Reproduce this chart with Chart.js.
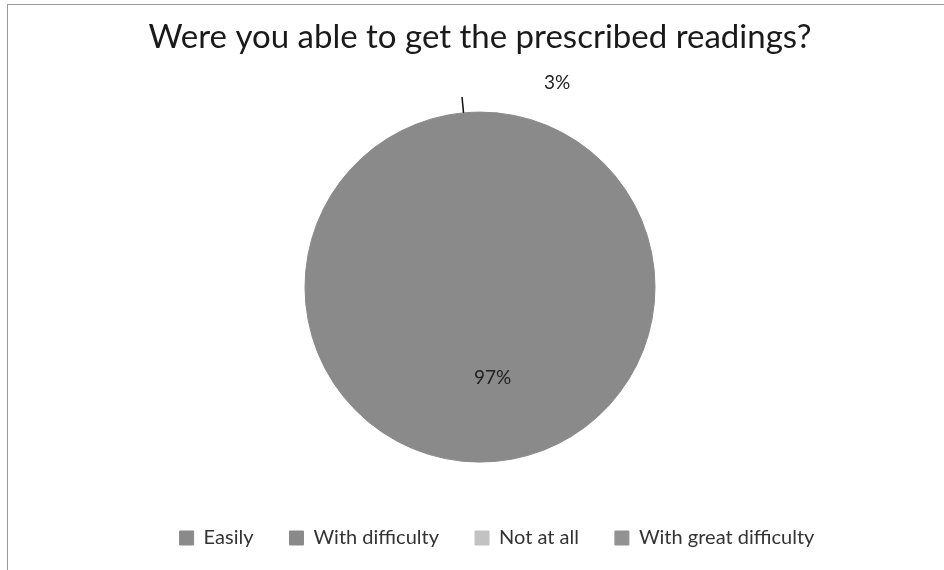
<!DOCTYPE html>
<html>
<head>
<meta charset="utf-8">
<script src="https://cdn.jsdelivr.net/npm/chart.js@4.4.1/dist/chart.umd.min.js"></script>
<style>
  html, body { margin: 0; padding: 0; background: #ffffff; }
  #wrap { width: 944px; height: 570px; position: relative; }
</style>
</head>
<body>
<div id="wrap"><canvas id="c" width="944" height="570"></canvas></div>
<script>
const categories = ['Easily', 'With difficulty', 'Not at all', 'With great difficulty'];
const percentValues = [97, 3, 0, 0];
const sliceColors = ['#8a8a8a', '#8a8a8a', '#c2c2c2', '#929292'];
const chartTitle = 'Were you able to get the prescribed readings?';

const FONT = 'Lato, "Open Sans", sans-serif';

const framePlugin = {
  id: 'frame',
  afterLayout(chart) {
    const lg = chart.legend;
    if (lg) { lg.left += 17; lg.right += 17; }
  },
  beforeDraw(chart) {
    const ctx = chart.ctx;
    ctx.save();
    ctx.fillStyle = '#ffffff';
    ctx.fillRect(0, 0, chart.width, chart.height);
    ctx.strokeStyle = '#9a9a9a';
    ctx.lineWidth = 1;
    ctx.strokeRect(7.5, 4.5, chart.width + 20, chart.height + 20);
    ctx.restore();
  }
};

const labelPlugin = {
  id: 'sliceLabels',
  afterDatasetsDraw(chart) {
    const ctx = chart.ctx;
    const meta = chart.getDatasetMeta(0);
    const data = chart.data.datasets[0].data;
    ctx.save();
    ctx.font = '19px ' + FONT;
    ctx.fillStyle = '#222222';
    ctx.textAlign = 'center';
    ctx.textBaseline = 'middle';
    meta.data.forEach((arc, i) => {
      const v = data[i];
      if (!v) return;
      const p = arc.getProps(['x', 'y', 'startAngle', 'endAngle', 'outerRadius'], true);
      const mid = (p.startAngle + p.endAngle) / 2;
      const cos = Math.cos(mid), sin = Math.sin(mid);
      const txt = v + '%';
      if (v >= 10) {
        const d = p.outerRadius * 0.52;
        ctx.fillText(txt, p.x + cos * d + 4, p.y + sin * d);
      } else {
        const x1 = p.x + cos * p.outerRadius;
        const y1 = p.y + sin * p.outerRadius;
        const x2 = p.x + cos * (p.outerRadius + 16);
        const y2 = p.y + sin * (p.outerRadius + 16);
        ctx.strokeStyle = '#111111';
        ctx.lineWidth = 1.5;
        ctx.beginPath();
        ctx.moveTo(x1, y1);
        ctx.lineTo(x2, y2);
        ctx.stroke();
        ctx.fillText(txt, x2 + 95, y2 - 14);
      }
    });
    ctx.restore();
  }
};

new Chart(document.getElementById('c'), {
  type: 'pie',
  data: {
    labels: categories,
    datasets: [{
      data: percentValues,
      backgroundColor: sliceColors,
      borderColor: sliceColors,
      borderWidth: 1
    }]
  },
  plugins: [framePlugin, labelPlugin],
  options: {
    responsive: false,
    animation: false,
    layout: { padding: { left: 16, right: 0, top: 0, bottom: 12 } },
    plugins: {
      tooltip: { enabled: false },
      title: {
        display: true,
        text: chartTitle,
        color: '#1a1a1a',
        font: { family: FONT, size: 33, weight: 'normal', lineHeight: 1.2 },
        padding: { top: 18, bottom: 54 }
      },
      legend: {
        display: true,
        position: 'bottom',
        title: { display: true, text: ' ', padding: { top: 15, bottom: 0 }, font: { size: 12 } },
        labels: {
          color: '#333333',
          font: { family: FONT, size: 20 },
          boxWidth: 14,
          boxHeight: 14,
          padding: 36
        }
      }
    }
  }
});
</script>
</body>
</html>
